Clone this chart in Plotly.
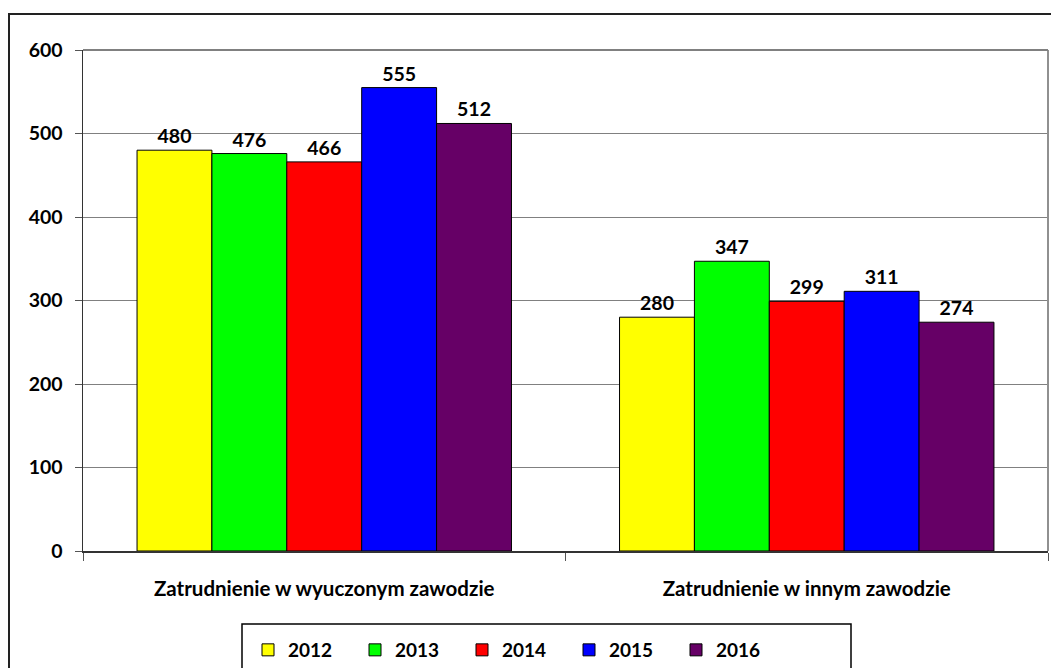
import plotly.graph_objects as go

categories = ["Zatrudnienie w wyuczonym zawodzie", "Zatrudnienie w innym zawodzie"]
years = ["2012", "2013", "2014", "2015", "2016"]
values = {
    "2012": [480, 280],
    "2013": [476, 347],
    "2014": [466, 299],
    "2015": [555, 311],
    "2016": [512, 274],
}
colors = ["#FFFF00", "#00FF00", "#FF0000", "#0000FF", "#660066"]
y_ticks = [0, 100, 200, 300, 400, 500, 600]

FONT = "Lato, 'Open Sans', sans-serif"

fig = go.Figure()
for yr, col in zip(years, colors):
    fig.add_trace(go.Bar(
        name=yr, x=categories, y=values[yr],
        marker=dict(color=col, line=dict(color="black", width=1)),
        text=[str(v) for v in values[yr]], textposition="outside",
        textfont=dict(family=FONT, size=19.5, color="black", weight="bold"),
        cliponaxis=False,
    ))

# page-pixel geometry of plot area
L, R, T, B = 83, 1048, 50, 551
W, H = 1051, 668
pw, ph = R - L, B - T
def px(x): return (x - L) / pw
def py(y): return (B - y) / ph

fig.update_layout(
    width=W, height=H,
    margin=dict(l=L, r=W - R, t=T, b=H - B, autoexpand=False),
    paper_bgcolor="white", plot_bgcolor="white",
    barmode="group", bargap=0.224, bargroupgap=0,
    font=dict(family=FONT, color="black"),
    showlegend=True,
    legend=dict(orientation="h", x=px(248), y=py(631), xanchor="left", yanchor="top",
                font=dict(family=FONT, size=19, color="black", weight="bold"),
                entrywidth=62, entrywidthmode="pixels", bgcolor="rgba(0,0,0,0)",
                borderwidth=0, itemwidth=30),
    xaxis=dict(showline=True, linecolor="#333333", linewidth=1.5,
               ticks="outside", tickson="boundaries", ticklen=8, tickcolor="#555555",
               tickfont=dict(family=FONT, size=20.5, color="black", weight="bold"),
               ticklabelstandoff=19, showgrid=False, automargin=False),
    yaxis=dict(range=[0, 600], tickvals=y_ticks, showline=True, linecolor="#333333", linewidth=1.5,
               ticks="outside", ticklen=7, tickcolor="#555555",
               tickfont=dict(family=FONT, size=19.5, color="black", weight="bold"),
               ticklabelstandoff=8, automargin=False,
               showgrid=True, gridcolor="#808080", gridwidth=1, zeroline=False),
    shapes=[
        dict(type="line", xref="paper", yref="paper", x0=1, x1=1, y0=0, y1=1,
             line=dict(color="#909090", width=2)),
        dict(type="line", xref="paper", yref="paper", x0=0, x1=1, y0=1, y1=1,
             line=dict(color="#808080", width=2)),
        dict(type="rect", xref="paper", yref="paper", x0=px(9), x1=px(1060), y0=py(14), y1=py(690),
             line=dict(color="#222222", width=2), fillcolor="rgba(0,0,0,0)"),
        dict(type="rect", xref="paper", yref="paper", x0=px(242), x1=px(851), y0=py(624), y1=py(690),
             line=dict(color="black", width=1.5), fillcolor="rgba(0,0,0,0)"),
    ],
)

fig.write_html(
    "out.html",
    config={"displayModeBar": False, "staticPlot": True},
    post_script=(
        "var s=document.documentElement.style;s.margin='0';s.padding='0';s.overflow='hidden';"
        "s.height='668px';"
        "var b=document.body.style;b.margin='0';b.padding='0';b.overflow='hidden';b.height='668px';"
    ),
)
